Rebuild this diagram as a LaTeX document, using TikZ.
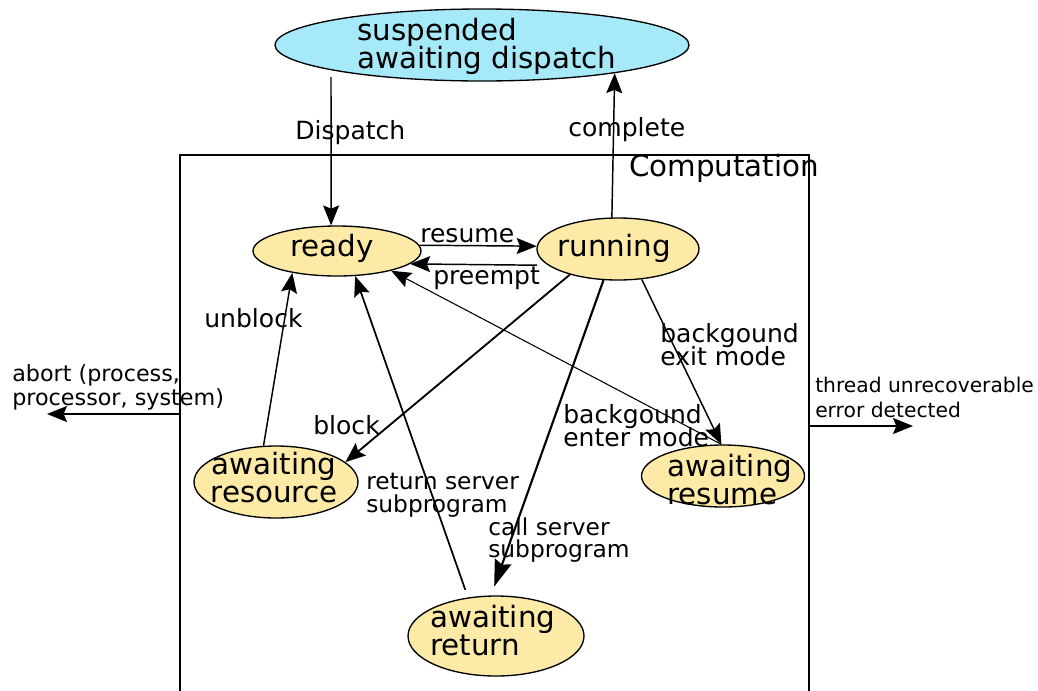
\documentclass[tikz,border=0pt]{standalone}
\usepackage{fontspec}
\setmainfont{DejaVu Sans}
\usetikzlibrary{shapes.geometric,arrows.meta}
\definecolor{stateyellow}{HTML}{FCEAA6}
\definecolor{statecyan}{HTML}{A6E9F8}
\newcommand\mytightls{\lineskiplimit=-20pt\relax}
\tikzset{
  state/.style={ellipse,draw=black,line width=1pt,fill=stateyellow,inner sep=0pt},
  ntext/.style={inner sep=0pt,font={\fontsize{22}{21}\selectfont\mytightls},align=left},
  elabel/.style={inner sep=0pt,font={\fontsize{18.8}{17.3}\selectfont\mytightls},align=left,anchor=west},
  elabelsmall/.style={inner sep=0pt,font={\fontsize{17.5}{17}\selectfont\mytightls},align=left,anchor=west},
  slabel/.style={inner sep=0pt,font={\fontsize{15.2}{18.5}\selectfont},align=left,anchor=west},
  alabel/.style={inner sep=0pt,font={\fontsize{16.7}{18}\selectfont},align=left,anchor=west},
  arr/.style={line width=1.1pt,-{Stealth[length=15pt,width=12pt,inset=2.5pt]}},
  bigarr/.style={line width=1.6pt,-{Stealth[length=20pt,width=13pt,inset=2.5pt]}},
}
\begin{document}
\begin{tikzpicture}[x=0.75pt,y=-0.75pt]
\useasboundingbox (0,0) rectangle (1038,690);
\clip (0,0) rectangle (1038,690);
\fill[white] (0,0) rectangle (1038,690);
% computation box (open at the bottom)
\node[draw=black,line width=0.8pt,minimum width=471.75pt,minimum height=408.75pt,inner sep=0pt] (comp) at (494.5,427.5) {};
\node[ntext,anchor=west] (compT) at (629,168) {Computation};
% states
\node[state,fill=statecyan,minimum width=310.5pt,minimum height=54pt] (susp) at (482,45) {};
\node[state,minimum width=126pt,minimum height=37.5pt] (ready) at (337,251) {};
\node[state,minimum width=121.5pt,minimum height=46.5pt] (running) at (618,249) {};
\node[state,minimum width=123pt,minimum height=54pt] (resource) at (276,482) {};
\node[state,minimum width=122.25pt,minimum height=46.5pt] (resume) at (723,476) {};
\node[state,minimum width=132pt,minimum height=60pt] (return) at (496,636) {};
% state texts
\node[ntext,anchor=west] (suspT) at (357,46) {suspended\\awaiting dispatch};
\node[ntext] (readyT) at (332,248) {ready};
\node[ntext] (runningT) at (614,248) {running};
\node[ntext,align=center] (resourceT) at (274,478) {awaiting\\resource};
\node[ntext,anchor=west] (resumeT) at (667,480) {awaiting\\resume};
\node[ntext,anchor=west] (returnT) at (430,631) {awaiting\\return};
% free ends
\coordinate (dispTop) at (331,77);
\coordinate (abortEnd) at (47,414);
\coordinate (threadEnd) at (913,426);
% connectors
\draw[arr] (dispTop) -- (ready.103);
\draw[arr] (running.101) -- (susp.-12);
\draw[arr] (ready.4) -- (running.178);
\draw[arr] ([xshift=-8]running.193) -- (ready.-10);
\draw[arr] (resource.109) -- (ready.206);
\draw[arr,line width=1.4pt] (running.208) -- (resource.16);
\draw[arr,line width=1.3pt,shorten <=6] (return.126) -- (ready.-54);
\draw[bigarr,shorten >=7] (running.245) -- (return.97);
\draw[arr] (running.-52) -- (resume.93);
\draw[arr,line width=0.8pt] (resume.93) -- (ready.-20);
\draw[arr] (abortEnd -| comp.west) -- (abortEnd);
\draw[arr] (threadEnd -| comp.east) -- (threadEnd);
% labels
\node[elabel] (lDispatch) at (295,133) {Dispatch};
\node[elabel] (lComplete) at (568,130) {complete};
\node[elabel] (lResume) at (420,236) {resume};
\node[elabel] (lPreempt) at (433,278) {preempt};
\node[elabel] (lUnblock) at (204,318) {unblock};
\node[elabel] (lBlock) at (313,425) {block};
\node[elabelsmall] (lReturn) at (366,495) {return server\\subprogram};
\node[elabelsmall] (lCall) at (488,540) {call server\\subprogram};
\node[elabel] (lExit) at (660,345) {backgound\\exit mode};
\node[elabel] (lEnter) at (563,426) {backgound\\enter mode};
\node[alabel] (lAbort) at (12,387) {abort (process,\\processor, system)};
\node[slabel] (lThread) at (815,397.5) {thread unrecoverable\\error detected};
\end{tikzpicture}
\end{document}
